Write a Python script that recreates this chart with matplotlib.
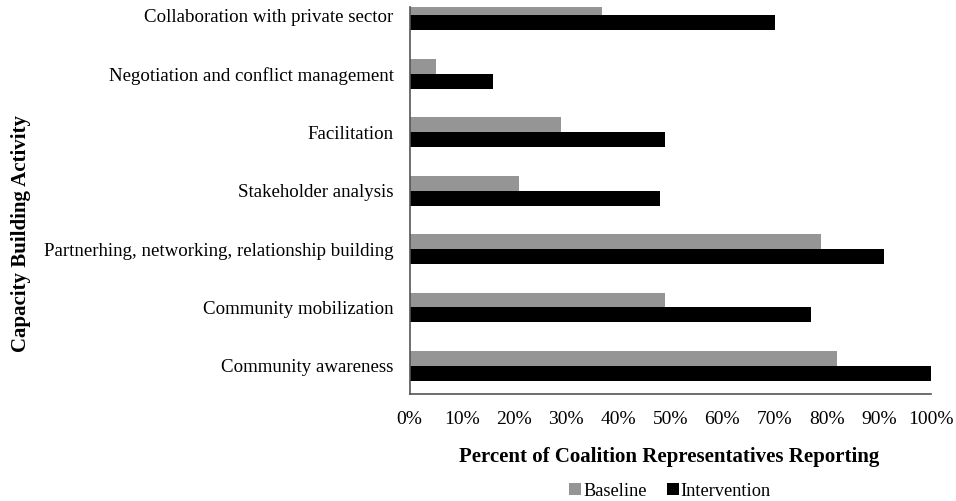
import matplotlib.pyplot as plt
import numpy as np

plt.rcParams['font.family'] = ['Liberation Serif', 'DejaVu Serif']

activities = ["Community awareness", "Community mobilization",
              "Partnerhing, networking, relationship building",
              "Stakeholder analysis", "Facilitation",
              "Negotiation and conflict management",
              "Collaboration with private sector"]
baseline = [82, 49, 79, 21, 29, 5, 37]
intervention = [100, 77, 91, 48, 49, 16, 70]

fig = plt.figure(figsize=(9.56, 5.01), dpi=100)
ax = fig.add_axes([409.5 / 956, 0.2136, (931 - 409.5) / 956, 0.7724])

y = np.arange(len(activities))
h = 0.256
ax.barh(y + h / 2, baseline, height=h, color='#959595', label='Baseline')
ax.barh(y - h / 2, intervention, height=h, color='black', label='Intervention')

ax.set_xlim(0, 100)
ax.set_ylim(-0.48, 6.14)
ax.set_xticks(np.arange(0, 101, 10))
ax.set_xticklabels([f"{v}%" for v in range(0, 101, 10)], fontsize=14)
ax.set_yticks(y)
ax.set_yticklabels(activities, fontsize=13.6)
ax.tick_params(axis='both', length=0)
ax.tick_params(axis='x', pad=12)
ax.tick_params(axis='y', pad=11.5)

for s in ['top', 'right']:
    ax.spines[s].set_visible(False)
for s in ['left', 'bottom']:
    ax.spines[s].set_color('#555555')
    ax.spines[s].set_linewidth(1.2)

fig.text(669 / 956, 1 - 457 / 501, "Percent of Coalition Representatives Reporting",
         ha='center', va='center', fontsize=15, fontweight='bold')
fig.text(21 / 956, 1 - 234 / 501, "Capacity Building Activity",
         ha='center', va='center', rotation=90, fontsize=15, fontweight='bold')

fig.legend(loc='center', bbox_to_anchor=(670 / 956, 1 - 491 / 501), ncol=2,
           frameon=False, fontsize=13.2, handlelength=0.65, handleheight=0.65,
           handletextpad=0.1, columnspacing=1.1)

fig.savefig('out.png', dpi=100)
